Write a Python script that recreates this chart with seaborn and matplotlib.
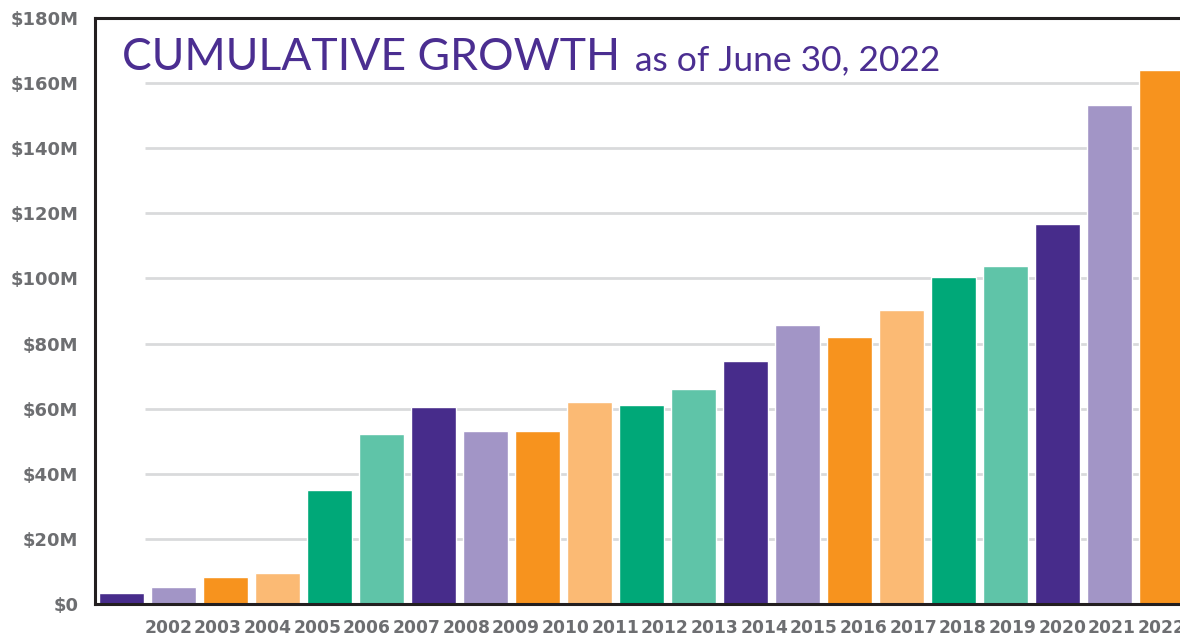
import matplotlib
matplotlib.use("Agg")
import matplotlib.pyplot as plt
import numpy as np
import pandas as pd
import seaborn as sns

# Data (cumulative growth, $M)
years = [str(y) for y in range(2002, 2023)]
values_m = [3.5, 5.3, 8.4, 9.6, 34.9, 52.1, 60.4, 53.0, 53.0, 61.9, 61.0,
            66.0, 74.6, 85.6, 81.9, 90.3, 100.4, 103.8, 116.7, 153.3, 164.1]
palette6 = ["#472C8B", "#A295C6", "#F7931E", "#FBBA74", "#00A878", "#5FC4A8"]
y_ticks = [0, 20, 40, 60, 80, 100, 120, 140, 160, 180]
y_labels = ["$0"] + [f"${v}M" for v in y_ticks[1:]]

df = pd.DataFrame({"year": years, "value": values_m})
colors = {y: palette6[i % 6] for i, y in enumerate(years)}

sns.set_style("white")
plt.rcParams["font.family"] = ["DejaVu Sans"]

fig = plt.figure(figsize=(11.8, 6.35), dpi=100)
ax = fig.add_axes([95 / 1180, 31 / 635, 1160 / 1180, 586 / 635])

# Gridlines (start a little right of the left spine)
ax.hlines(y_ticks[:-1], 0.45, 30, color="#D9DADC", linewidth=2, zorder=0)

sns.barplot(data=df, x="year", y="value", hue="year", palette=colors,
            order=years, legend=False, width=0.87, saturation=1, ax=ax, zorder=2)

ax.set_xlim(-0.51, -0.51 + 1160 / 52)
ax.set_ylim(0, 180)

ax.set_yticks(y_ticks, labels=y_labels)
# year labels sit on a slightly compressed row in the reference
ax.set_xticks(np.linspace(0.9, 20.0, len(years)), labels=years)
ax.tick_params(axis="y", length=0, pad=12, labelsize=13, labelcolor="#6D6E71")
ax.tick_params(axis="x", length=0, pad=11, labelsize=12.3, labelcolor="#6D6E71")
for lab in ax.get_xticklabels() + ax.get_yticklabels():
    lab.set_fontweight("bold")

ax.set_xlabel("")
ax.set_ylabel("")

for side in ["left", "top", "bottom", "right"]:
    ax.spines[side].set_color("#231F20")
    ax.spines[side].set_linewidth(2.2)

# Title
t1 = ax.text(122 / 1180, (635 - 70) / 635, "CUMULATIVE GROWTH", transform=fig.transFigure,
             fontsize=32, color="#4B2E91", family="Lato", va="baseline", ha="left")
fig.canvas.draw()
bb = t1.get_window_extent()
ax.text((bb.x1 + 15) / fig.bbox.width, (635 - 70) / 635, "as of June 30, 2022",
        transform=fig.transFigure, fontsize=25.5, color="#4B2E91", family="Lato",
        va="baseline", ha="left")

fig.savefig("out.png", dpi=100)
